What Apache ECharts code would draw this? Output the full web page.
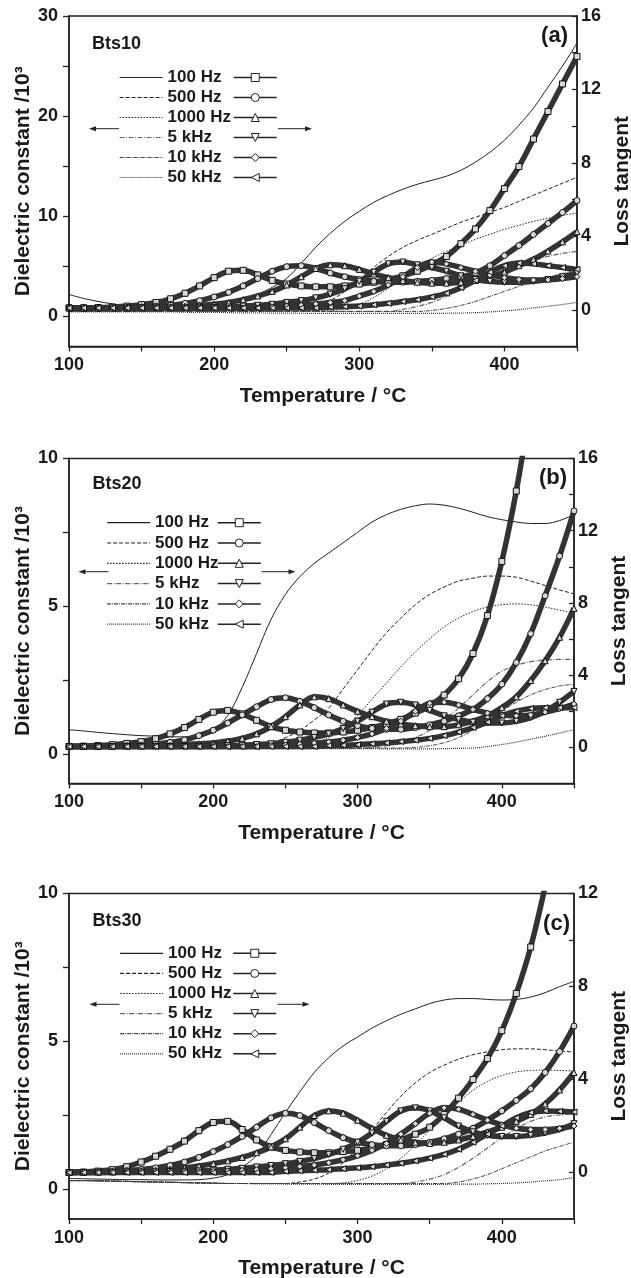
<!DOCTYPE html>
<html><head><meta charset="utf-8">
<script src="https://cdn.jsdelivr.net/npm/echarts@6/dist/echarts.min.js"></script>
<style>html,body{margin:0;padding:0;background:#fff}#c{width:631px;height:1278px}</style>
</head><body><div id="c"></div>
<script>
// ---------- DATA ----------
const temps = [100,110,120,130,140,150,160,170,180,190,200,210,220,230,240,250,260,270,280,290,300,310,320,330,340,350,360,370,380,390,400,410,420,430,440,450];
const freqs = ['100 Hz','500 Hz','1000 Hz','5 kHz','10 kHz','50 kHz'];
const tanNames = ['tan 100 Hz','tan 500 Hz','tan 1000 Hz','tan 5 kHz','tan 10 kHz','tan 50 kHz'];
const panelNames = ['Bts10','Bts20','Bts30'];
const panelTags = ['(a)','(b)','(c)'];
const xLabelValues = [100,200,300,400];
const xTickValues = [100,150,200,250,300,350,400,450];

// Panel (a) dielectric constant /10^3
const aEps100 = [2.2,1.8,1.5,1.25,1.05,1.0,1.0,1.0,1.0,1.05,1.15,1.3,1.7,2.2,2.9,3.8,5.3,6.9,8.3,9.5,10.5,11.4,12.1,12.7,13.2,13.6,14.0,14.6,15.4,16.4,17.6,19.1,20.8,22.9,25.0,27.3];
const aEps500 = [0.6,0.6,0.6,0.6,0.6,0.6,0.6,0.6,0.6,0.6,0.6,0.6,0.6,0.6,0.65,0.7,0.8,1.1,1.6,2.5,3.6,4.9,6.0,6.9,7.6,8.2,8.8,9.4,9.9,10.4,10.9,11.5,12.1,12.7,13.3,13.9];
const aEps1k = [0.55,0.55,0.55,0.55,0.55,0.55,0.55,0.55,0.55,0.55,0.55,0.55,0.55,0.55,0.55,0.55,0.55,0.55,0.6,0.8,1.2,1.9,2.8,3.9,4.9,5.8,6.5,7.1,7.7,8.2,8.7,9.1,9.5,9.8,10.1,10.3];
const aEps5k = [0.5,0.5,0.5,0.5,0.5,0.5,0.5,0.5,0.5,0.5,0.5,0.5,0.5,0.5,0.5,0.5,0.5,0.5,0.5,0.5,0.5,0.5,0.5,0.7,1.0,1.4,2.0,2.7,3.4,4.1,4.7,5.2,5.6,6.0,6.3,6.5];
const aEps10k = [0.5,0.5,0.5,0.5,0.5,0.5,0.5,0.5,0.5,0.5,0.5,0.5,0.5,0.5,0.5,0.5,0.5,0.5,0.5,0.5,0.5,0.5,0.5,0.5,0.5,0.6,0.8,1.1,1.5,2.0,2.5,3.0,3.5,3.9,4.3,4.6];
const aEps50k = [0.45,0.45,0.45,0.45,0.45,0.45,0.45,0.45,0.42,0.4,0.4,0.38,0.36,0.35,0.34,0.33,0.32,0.31,0.3,0.3,0.3,0.3,0.3,0.3,0.3,0.3,0.32,0.34,0.38,0.45,0.55,0.68,0.85,1.02,1.2,1.4];
// Panel (a) loss tangent
const aTan100 = [0.1,0.1,0.12,0.15,0.2,0.28,0.4,0.6,0.9,1.3,1.75,2.1,2.15,1.9,1.6,1.4,1.3,1.25,1.25,1.3,1.4,1.5,1.65,1.85,2.1,2.45,2.9,3.6,4.4,5.4,6.6,7.8,9.3,10.8,12.3,13.8];
const aTan500 = [0.1,0.1,0.1,0.1,0.12,0.15,0.2,0.25,0.35,0.5,0.7,0.95,1.3,1.7,2.1,2.35,2.4,2.25,2.0,1.8,1.65,1.55,1.5,1.5,1.55,1.6,1.7,1.8,2.0,2.4,2.95,3.5,4.1,4.7,5.3,5.95];
const aTan1k = [0.1,0.1,0.1,0.1,0.1,0.12,0.14,0.17,0.2,0.25,0.3,0.4,0.55,0.75,1.0,1.35,1.8,2.25,2.45,2.4,2.2,1.95,1.75,1.6,1.5,1.45,1.45,1.5,1.6,1.8,2.05,2.4,2.75,3.2,3.7,4.25];
const aTan5k = [0.1,0.1,0.1,0.1,0.1,0.1,0.1,0.1,0.1,0.1,0.12,0.15,0.2,0.25,0.3,0.4,0.5,0.65,0.85,1.15,1.55,2.05,2.5,2.6,2.45,2.3,2.1,1.85,1.65,1.55,1.5,1.5,1.55,1.65,1.8,2.0];
const aTan10k = [0.1,0.1,0.1,0.1,0.1,0.1,0.1,0.1,0.1,0.1,0.1,0.1,0.1,0.1,0.15,0.2,0.25,0.32,0.4,0.5,0.75,1.0,1.35,1.8,2.3,2.6,2.5,2.3,2.1,1.9,1.75,1.65,1.62,1.63,1.7,1.8];
const aTan50k = [0.1,0.1,0.1,0.1,0.1,0.1,0.1,0.1,0.1,0.1,0.1,0.1,0.1,0.1,0.1,0.1,0.1,0.1,0.15,0.17,0.2,0.27,0.35,0.45,0.55,0.7,0.9,1.2,1.6,2.05,2.4,2.55,2.5,2.4,2.3,2.2];

// Panel (b) dielectric constant /10^3
const bEps100 = [0.82,0.78,0.73,0.69,0.65,0.62,0.6,0.58,0.58,0.62,0.8,1.3,2.25,3.4,4.55,5.4,6.0,6.45,6.8,7.15,7.5,7.85,8.1,8.28,8.4,8.46,8.42,8.32,8.18,8.03,7.93,7.85,7.8,7.8,7.9,8.1];
const bEps500 = [0.25,0.25,0.24,0.24,0.23,0.22,0.22,0.21,0.21,0.2,0.2,0.2,0.22,0.28,0.38,0.55,0.8,1.15,1.55,2.2,2.85,3.5,4.1,4.6,5.05,5.4,5.65,5.85,5.95,6.02,6.02,5.98,5.85,5.7,5.55,5.42];
const bEps1k = [0.22,0.22,0.21,0.21,0.2,0.2,0.2,0.19,0.19,0.18,0.18,0.18,0.18,0.18,0.19,0.2,0.25,0.35,0.55,0.85,1.3,1.85,2.4,2.95,3.45,3.9,4.3,4.6,4.82,4.97,5.05,5.08,5.05,4.97,4.87,4.76];
const bEps5k = [0.2,0.2,0.2,0.2,0.2,0.2,0.2,0.2,0.2,0.2,0.2,0.2,0.2,0.2,0.2,0.2,0.2,0.2,0.2,0.2,0.2,0.22,0.28,0.38,0.55,0.8,1.15,1.55,2.0,2.45,2.8,3.0,3.12,3.18,3.2,3.2];
const bEps10k = [0.2,0.2,0.2,0.2,0.2,0.2,0.2,0.2,0.2,0.2,0.2,0.2,0.2,0.2,0.2,0.2,0.2,0.2,0.2,0.2,0.2,0.2,0.2,0.2,0.22,0.28,0.38,0.55,0.8,1.1,1.45,1.75,2.0,2.18,2.3,2.36];
const bEps50k = [0.2,0.2,0.2,0.2,0.2,0.2,0.2,0.2,0.2,0.2,0.19,0.19,0.19,0.19,0.18,0.18,0.18,0.18,0.18,0.18,0.18,0.18,0.17,0.17,0.17,0.17,0.18,0.19,0.2,0.25,0.32,0.4,0.5,0.6,0.71,0.82];
// Panel (b) loss tangent
const bTan100 = [0.05,0.07,0.1,0.15,0.22,0.32,0.48,0.75,1.1,1.55,1.95,2.05,1.85,1.5,1.15,0.95,0.85,0.8,0.8,0.85,0.95,1.1,1.3,1.55,1.9,2.3,2.9,3.8,5.2,7.3,10.3,14.2,19.0];
const bTan500 = [0.05,0.05,0.06,0.07,0.09,0.12,0.18,0.28,0.42,0.65,0.95,1.35,1.8,2.25,2.65,2.75,2.55,2.2,1.8,1.45,1.2,1.05,1.0,1.0,1.1,1.25,1.45,1.75,2.1,2.7,3.5,4.7,6.3,8.4,10.6,13.1];
const bTan1k = [0.05,0.05,0.05,0.06,0.07,0.08,0.1,0.12,0.15,0.2,0.25,0.35,0.5,0.75,1.15,1.7,2.35,2.8,2.7,2.35,2.0,1.7,1.45,1.3,1.2,1.15,1.15,1.25,1.45,1.75,2.2,2.8,3.7,4.8,6.1,7.7];
const bTan5k = [0.05,0.05,0.05,0.05,0.05,0.05,0.05,0.05,0.05,0.05,0.08,0.1,0.12,0.16,0.2,0.28,0.4,0.55,0.75,1.05,1.45,1.95,2.4,2.5,2.35,2.05,1.75,1.55,1.4,1.35,1.35,1.45,1.65,2.0,2.5,3.1];
const bTan10k = [0.05,0.05,0.05,0.05,0.05,0.05,0.05,0.05,0.05,0.05,0.05,0.05,0.05,0.05,0.1,0.13,0.18,0.24,0.3,0.4,0.55,0.75,1.05,1.45,2.0,2.45,2.5,2.35,2.1,1.9,1.8,1.75,1.8,1.95,2.15,2.4];
const bTan50k = [0.05,0.05,0.05,0.05,0.05,0.05,0.05,0.05,0.05,0.05,0.05,0.05,0.05,0.05,0.05,0.05,0.05,0.05,0.1,0.12,0.15,0.2,0.25,0.32,0.4,0.5,0.65,0.85,1.1,1.4,1.75,2.0,2.15,2.2,2.2,2.2];

// Panel (c) dielectric constant /10^3
const cEps100 = [0.37,0.36,0.35,0.34,0.33,0.33,0.32,0.32,0.32,0.33,0.38,0.5,0.75,1.15,1.85,2.6,3.3,3.95,4.45,4.85,5.15,5.45,5.7,5.92,6.1,6.28,6.4,6.45,6.45,6.42,6.4,6.42,6.5,6.65,6.85,7.03];
const cEps500 = [0.3,0.3,0.29,0.28,0.27,0.26,0.25,0.24,0.23,0.22,0.21,0.2,0.2,0.2,0.2,0.2,0.25,0.35,0.55,0.9,1.4,2.0,2.6,3.15,3.6,3.95,4.2,4.4,4.55,4.65,4.72,4.75,4.75,4.72,4.68,4.64];
const cEps1k = [0.3,0.3,0.29,0.28,0.27,0.26,0.25,0.24,0.23,0.22,0.21,0.2,0.2,0.2,0.2,0.2,0.2,0.2,0.2,0.22,0.3,0.45,0.7,1.05,1.5,2.0,2.5,2.95,3.35,3.65,3.85,3.97,4.02,4.03,4.02,4.0];
const cEps5k = [0.3,0.3,0.29,0.28,0.27,0.26,0.25,0.24,0.23,0.22,0.21,0.2,0.2,0.2,0.2,0.2,0.2,0.2,0.2,0.2,0.2,0.2,0.2,0.2,0.25,0.35,0.5,0.75,1.05,1.4,1.75,2.05,2.3,2.45,2.52,2.55];
const cEps10k = [0.3,0.3,0.29,0.28,0.27,0.26,0.25,0.24,0.23,0.22,0.21,0.2,0.2,0.2,0.2,0.2,0.2,0.2,0.2,0.2,0.2,0.2,0.2,0.2,0.2,0.2,0.2,0.25,0.35,0.5,0.7,0.9,1.1,1.3,1.45,1.6];
const cEps50k = [0.3,0.3,0.29,0.28,0.27,0.26,0.25,0.24,0.23,0.22,0.21,0.2,0.2,0.19,0.19,0.18,0.18,0.18,0.17,0.17,0.17,0.17,0.17,0.17,0.17,0.17,0.17,0.18,0.18,0.19,0.2,0.22,0.25,0.29,0.33,0.4];
// Panel (c) loss tangent
const cTan100 = [0.0,0.02,0.06,0.12,0.25,0.45,0.7,1.0,1.35,1.8,2.15,2.2,1.85,1.4,1.1,0.95,0.88,0.85,0.85,0.9,0.95,1.05,1.2,1.4,1.65,1.95,2.5,3.2,4.0,4.9,6.1,7.7,9.7,12.3];
const cTan500 = [0.0,0.01,0.02,0.04,0.08,0.13,0.2,0.3,0.45,0.65,0.9,1.2,1.55,1.95,2.35,2.55,2.45,2.15,1.8,1.5,1.3,1.2,1.15,1.15,1.2,1.3,1.45,1.65,1.9,2.25,2.65,3.1,3.6,4.3,5.2,6.3];
const cTan1k = [0.0,0.01,0.02,0.03,0.05,0.07,0.1,0.14,0.2,0.28,0.38,0.5,0.65,0.85,1.1,1.45,1.95,2.45,2.65,2.55,2.25,1.9,1.6,1.4,1.3,1.25,1.3,1.4,1.55,1.75,1.95,2.2,2.5,2.95,3.55,4.3];
const cTan5k = [0.0,0.0,0.01,0.01,0.02,0.02,0.03,0.04,0.05,0.07,0.1,0.14,0.18,0.24,0.3,0.38,0.48,0.6,0.78,1.0,1.3,1.7,2.2,2.65,2.78,2.65,2.35,2.0,1.75,1.6,1.55,1.55,1.6,1.7,1.85,2.1];
const cTan10k = [0.0,0.0,0.0,0.01,0.01,0.01,0.02,0.02,0.03,0.04,0.05,0.07,0.09,0.12,0.16,0.2,0.26,0.32,0.42,0.55,0.72,0.95,1.25,1.65,2.1,2.55,2.78,2.72,2.5,2.25,2.05,1.9,1.85,1.85,1.9,2.0];
const cTan50k = [0.0,0.0,0.0,0.0,0.0,0.0,0.0,0.0,0.0,0.0,0.0,0.0,0.0,0.0,0.0,0.05,0.07,0.1,0.12,0.16,0.2,0.25,0.32,0.4,0.5,0.62,0.78,1.0,1.3,1.65,2.0,2.35,2.58,2.65,2.63,2.6];

// Axis ranges and tick values
const leftMin = [-3,-1,-1], leftMax = [30,10,10];
const leftLabels = [[0,10,20,30],[0,5,10],[0,5,10]];
const leftTicks = [[0,5,10,15,20,25,30],[0,2.5,5,7.5,10],[0,2.5,5,7.5,10]];
const rightMin = [-2,-2,-2], rightMax = [16,16,12];
const rightLabels = [[0,4,8,12,16],[0,4,8,12,16],[0,4,8,12]];
const rightTicks = [[0,2,4,6,8,10,12,14,16],[0,2,4,6,8,10,12,14,16],[0,2,4,6,8,10,12]];

const epsSets = [[aEps100,aEps500,aEps1k,aEps5k,aEps10k,aEps50k],[bEps100,bEps500,bEps1k,bEps5k,bEps10k,bEps50k],[cEps100,cEps500,cEps1k,cEps5k,cEps10k,cEps50k]];
const tanSets = [[aTan100,aTan500,aTan1k,aTan5k,aTan10k,aTan50k],[bTan100,bTan500,bTan1k,bTan5k,bTan10k,bTan50k],[cTan100,cTan500,cTan1k,cTan5k,cTan10k,cTan50k]];

// ---------- LAYOUT / STYLE ----------
const FONT = "'Liberation Sans', Arial, Helvetica, sans-serif";
const INK = '#1a1a1a';
const grids = [
  {left:69, top:16, width:508, height:330.5},
  {left:69, top:458.5, width:505, height:325},
  {left:69, top:893.5, width:505, height:325.5}
];
const legendPos = [
  {l:119, r:233, top:69, gap:3},
  {l:106.5, r:217, top:514.2, gap:3.3},
  {l:119.5, r:232.5, top:944.8, gap:3.1}
];
const annotPos = [
  {nx:92, ny:45, tx:568, ty:37, ay:128.7, la:[119,89], ra:[278,312]},
  {nx:92.5, ny:485, tx:567, ty:478.5, ay:571.7, la:[108.5,78.5], ra:[261.5,295.5]},
  {nx:92.5, ny:921.7, tx:570, ty:925, ay:1004.3, la:[119.5,89.5], ra:[277.5,309.5]}
];
const epsLine = [
  {type:'solid', width:1, color:'#222'},
  {type:[4,2], width:1, color:'#222'},
  {type:[1.5,1.5], width:1, color:'#222'},
  {type:[5,1.5,1,1.5], width:1.2, color:'#666'},
  {type:[4,1,1,1], width:1, color:'#444'},
  {type:[1,1], width:1.2, color:'#333'}
];
const tanSym = [
  {s:'rect', r:0}, {s:'circle', r:0}, {s:'triangle', r:0},
  {s:'triangle', r:180}, {s:'diamond', r:0}, {s:'triangle', r:90}
];

const txt = (size) => ({fontSize:size, fontWeight:'bold', color:INK, fontFamily:FONT});

const xAxes = [], yAxes = [], series = [], legends = [], graphics = [];
for (let g = 0; g < 3; g++) {
  xAxes.push({
    gridIndex:g, type:'value', min:100, max:450,
    axisLine:{onZero:false, lineStyle:{color:'#222', width:1.5}},
    axisTick:{show:true, inside:false, length:5, customValues:xTickValues, lineStyle:{color:'#222', width:1.3}},
    axisLabel:{customValues:xLabelValues, margin:10, ...txt(18)},
    splitLine:{show:false},
    name:'Temperature / °C', nameLocation:'middle', nameGap:39, nameMoveOverlap:false, nameTextStyle:txt(21)
  });
  yAxes.push({
    gridIndex:g, type:'value', position:'left', min:leftMin[g], max:leftMax[g],
    axisLine:{show:true, onZero:false, lineStyle:{color:'#222', width:1.5}},
    axisTick:{show:true, inside:false, length:6, customValues:leftTicks[g], lineStyle:{color:'#222', width:1.3}},
    axisLabel:{customValues:leftLabels[g], margin:11, ...txt(18)},
    splitLine:{show:false},
    name:'Dielectric constant /10³', nameLocation:'middle', nameGap:35, nameMoveOverlap:false, nameTextStyle:txt(21)
  });
  yAxes.push({
    gridIndex:g, type:'value', position:'right', min:rightMin[g], max:rightMax[g],
    axisLine:{show:true, onZero:false, lineStyle:{color:'#222', width:1.5}},
    axisTick:{show:true, inside:true, length:5, customValues:rightTicks[g], lineStyle:{color:'#222', width:1.3}},
    axisLabel:{customValues:rightLabels[g], margin:4, ...txt(18)},
    splitLine:{show:false},
    name:'Loss tangent', nameLocation:'middle', nameGap:35, nameMoveOverlap:false, nameTextStyle:txt(21)
  });
  const pair = (arr) => arr.map((v, i) => [temps[i], v]);
  for (let k = 0; k < 6; k++) {
    series.push({
      type:'line', name:freqs[k], xAxisIndex:g, yAxisIndex:2*g,
      data:pair(epsSets[g][k]), smooth:0.35, symbol:'none', showSymbol:false,
      lineStyle:epsLine[k], itemStyle:{color:epsLine[k].color}, z:2, silent:true
    });
  }
  for (let k = 0; k < 6; k++) {
    series.push({
      type:'line', name:tanNames[k], xAxisIndex:g, yAxisIndex:2*g+1,
      data:pair(tanSets[g][k]), smooth:0.35, symbol:tanSym[k].s, symbolRotate:tanSym[k].r,
      symbolSize:6, showSymbol:true, showAllSymbol:true,
      lineStyle:{color:'#333', width:5.5},
      itemStyle:{color:'#d8d8d8', borderColor:'#111', borderWidth:1},
      z:3, silent:true, clip:true
    });
  }
  const lp = legendPos[g];
  legends.push({
    orient:'vertical', left:lp.l, top:lp.top, padding:0, itemWidth:43, itemHeight:10, itemGap:lp.gap,
    data:freqs, selectedMode:false, textStyle:{...txt(17), lineHeight:17},
    itemStyle:{opacity:0}, lineStyle:{width:1.2}
  });
  legends.push({
    orient:'vertical', left:lp.r, top:lp.top, padding:0, itemWidth:43, itemHeight:10, itemGap:lp.gap,
    data:tanNames, selectedMode:false, formatter:() => ' ', textStyle:{...txt(17), lineHeight:17},
    lineStyle:{width:1.5, color:'#222'}, itemStyle:{color:'#fff', borderColor:'#222', borderWidth:1}
  });
  const a = annotPos[g];
  graphics.push({type:'text', left:a.nx, top:a.ny - 10, style:{text:panelNames[g], font:"bold 18px " + FONT, fill:INK}});
  graphics.push({type:'text', right:631 - a.tx, top:a.ty - 12, style:{text:panelTags[g], font:"bold 22px " + FONT, fill:INK}});
  graphics.push({type:'line', shape:{x1:a.la[0], y1:a.ay, x2:a.la[1] + 5, y2:a.ay}, style:{stroke:'#222', lineWidth:1}});
  graphics.push({type:'polygon', shape:{points:[[a.la[1], a.ay],[a.la[1] + 7, a.ay - 2.5],[a.la[1] + 7, a.ay + 2.5]]}, style:{fill:'#222'}});
  graphics.push({type:'line', shape:{x1:a.ra[0], y1:a.ay, x2:a.ra[1] - 5, y2:a.ay}, style:{stroke:'#222', lineWidth:1}});
  graphics.push({type:'polygon', shape:{points:[[a.ra[1], a.ay],[a.ra[1] - 7, a.ay - 2.5],[a.ra[1] - 7, a.ay + 2.5]]}, style:{fill:'#222'}});
}

const chart = echarts.init(document.getElementById('c'), null, {renderer:'canvas'});
chart.setOption({
  animation:false,
  backgroundColor:'#fff',
  grid:grids.map(gr => ({...gr, show:true, borderColor:'#222', borderWidth:1.5, containLabel:false, outerBoundsMode:'none'})),
  xAxis:xAxes, yAxis:yAxes, legend:legends, series:series, graphic:graphics
});
</script></body></html>
